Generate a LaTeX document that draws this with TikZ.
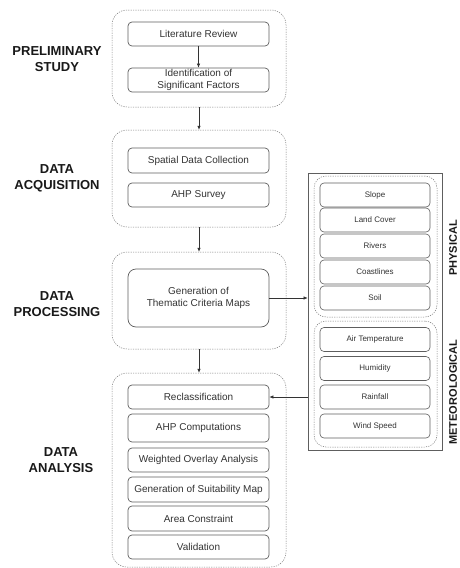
\documentclass[tikz,border=0pt]{standalone}
\usepackage{fontspec}
\setmainfont{Liberation Sans}
\usetikzlibrary{arrows.meta}
\definecolor{bordc}{HTML}{5E5E5E}
\definecolor{txtc}{HTML}{333333}
\definecolor{grpc}{HTML}{7A7A7A}
\tikzset{
  box/.style={draw=bordc, line width=0.7pt, rounded corners=4pt, inner sep=0pt,
    text=txtc, font=\fontsize{10}{11.5}\selectfont, align=center, minimum width=141pt},
  sbox/.style={draw=bordc, line width=0.6pt, rounded corners=4pt, inner sep=0pt,
    text=txtc, font=\fontsize{8}{9.5}\selectfont, align=center, minimum width=110pt, minimum height=24pt},
  grp/.style={draw=grpc, line width=0.5pt, dash pattern=on 1.2pt off 1.2pt, rounded corners=15pt, inner sep=0pt},
  head/.style={font=\fontsize{13}{16}\selectfont\bfseries, align=center, text=black!90},
  vhead/.style={font=\fontsize{11}{13}\selectfont\bfseries, rotate=90, text=black!90},
  arr/.style={-{Latex[length=4pt,width=3.5pt]}, draw=black!80, line width=0.6pt}
}
\begin{document}
\begin{tikzpicture}[x=1pt,y=-1pt]
\useasboundingbox (0,0) rectangle (459,568);
\fill[white] (0,0) rectangle (459,568);
% groups
\node[grp, minimum width=174pt, minimum height=97pt] (g1) at (199,58.5) {};
\node[grp, minimum width=174pt, minimum height=97pt] (g2) at (199,178.5) {};
\node[grp, minimum width=174pt, minimum height=97pt] (g3) at (199,300.5) {};
\node[grp, minimum width=174pt, minimum height=194pt] (g4) at (199,470) {};
% headings
\node[head] (h1) at (57,59) {PRELIMINARY\\STUDY};
\node[head] (h2) at (57,178.5) {DATA\\ACQUISITION};
\node[head] (h3) at (57,304.5) {DATA\\PROCESSING};
\node[head] (h4) at (61,460) {DATA\\ANALYSIS};
% inner boxes
\node[box, minimum height=24pt] (lr) at (198.5,34) {Literature Review};
\node[box, minimum height=24pt] (idf) at (198.5,80) {Identification of\\Significant Factors};
\node[box, minimum height=25pt] (sdc) at (198.5,160.5) {Spatial Data Collection};
\node[box, minimum height=24pt] (ahps) at (198.5,195) {AHP Survey};
\node[box, minimum height=58pt, rounded corners=8pt] (gen) at (198.5,298) {Generation of\\Thematic Criteria Maps};
\node[box, minimum height=24pt] (recl) at (198.5,397) {Reclassification};
\node[box, minimum height=28pt] (ahpc) at (198.5,428) {AHP Computations};
\node[box, minimum height=24pt] (woa) at (198.5,460) {Weighted Overlay Analysis};
\node[box, minimum height=25pt] (gsm) at (198.5,489.5) {Generation of Suitability Map};
\node[box, minimum height=25pt] (ac) at (198.5,518.5) {Area Constraint};
\node[box, minimum height=24pt] (val) at (198.5,547) {Validation};
% right panel
\node[draw=bordc, line width=0.7pt, minimum width=134pt, minimum height=277pt, inner sep=0pt] (panel) at (375,311.5) {};
\node[grp, minimum width=123pt, minimum height=141pt, rounded corners=12pt] (phys) at (375.5,246.5) {};
\node[grp, minimum width=123pt, minimum height=126pt, rounded corners=12pt] (met) at (375.5,384) {};
\node[sbox] (slope) at (375,195) {Slope};
\node[sbox] (lc) at (375,220) {Land Cover};
\node[sbox] (riv) at (375,246) {Rivers};
\node[sbox] (coast) at (375,272) {Coastlines};
\node[sbox] (soil) at (375,298) {Soil};
\node[sbox] (air) at (375,339.5) {Air Temperature};
\node[sbox] (hum) at (375,368.5) {Humidity};
\node[sbox] (rain) at (375,397) {Rainfall};
\node[sbox] (wind) at (375,426) {Wind Speed};
\node[vhead] (vp) at (453,248) {PHYSICAL};
\node[vhead] (vm) at (453,392) {METEOROLOGICAL};
% arrows
\draw[arr] (lr.south) -- (idf.north);
\draw[arr] (g1.south) -- (g2.north);
\draw[arr] (g2.south) -- (g3.north);
\draw[arr] (g3.south) -- (g4.north);
\draw[arr] (gen.east) -- (gen.east -| panel.west);
\draw[arr] (recl.east -| panel.west) -- (recl.east);
\end{tikzpicture}
\end{document}
